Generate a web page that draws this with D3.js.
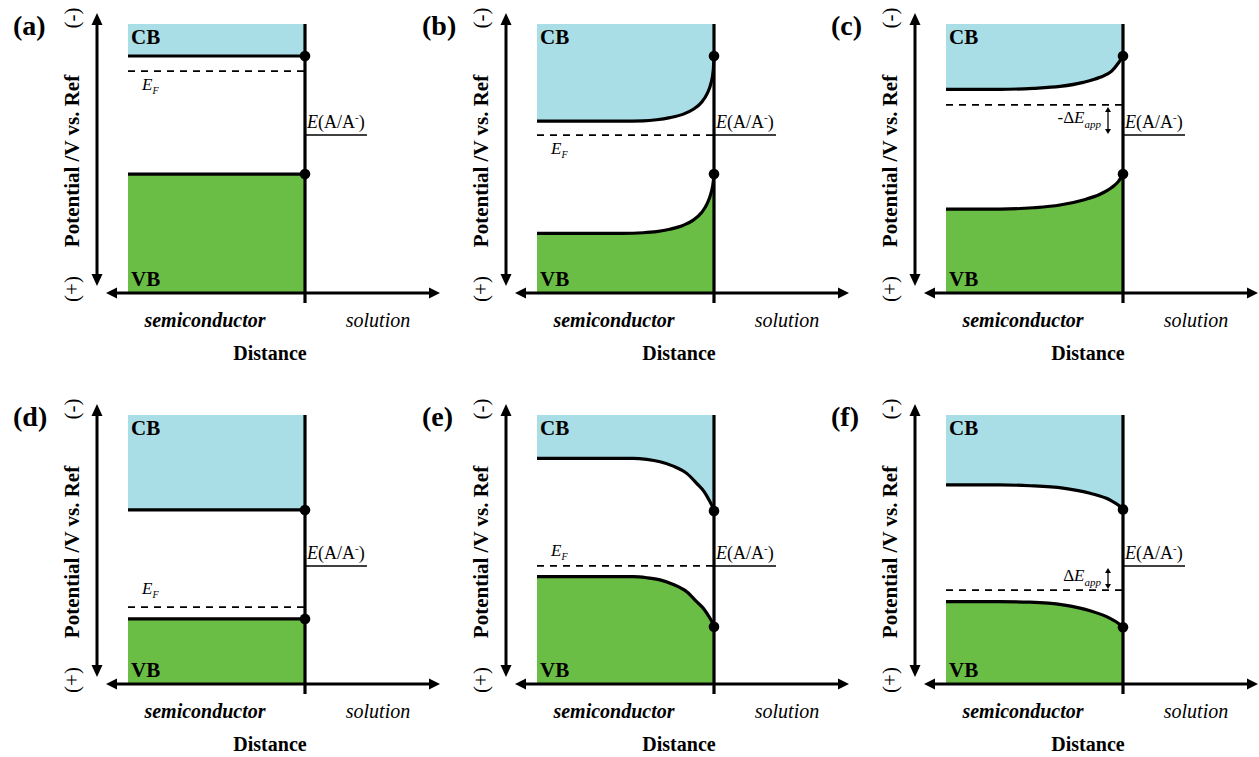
<!DOCTYPE html>
<html>
<head>
<meta charset="utf-8">
<script src="https://cdn.jsdelivr.net/npm/d3@7"></script>
<style>
  html, body { margin: 0; padding: 0; background: #fff; }
  svg { display: block; font-family: "Liberation Serif", "Times New Roman", serif; }
</style>
</head>
<body>
<svg id="chart" width="1259" height="757"></svg>
<script>
// Six band diagrams, read left-to-right, top-to-bottom
const panelIds = ["a", "b", "c", "d", "e", "f"];

// Band-edge profiles as [distance from interface, potential] (arbitrary units,
// distance -10 = bulk edge of the semiconductor, potential grows downwards = more positive)
const cbProfiles = [
  [[-10, 1.19], [0, 1.19]],
  [[-10, 3.61], [-5.2, 3.61], [-4.0, 3.60], [-3.24, 3.56], [-2.49, 3.48], [-1.73, 3.35], [-1.17, 3.17],
   [-0.70, 2.91], [-0.38, 2.58], [-0.17, 2.20], [-0.04, 1.71], [0, 1.19]],
  [[-10, 2.43], [-6.95, 2.43], [-5.07, 2.39], [-3.56, 2.32], [-2.24, 2.17], [-1.30, 1.98], [-0.64, 1.75],
   [-0.27, 1.46], [0, 1.19]],
  [[-10, 3.53], [0, 3.53]],
  [[-10, 1.61], [-4.56, 1.61], [-3.80, 1.65], [-3.05, 1.74], [-2.30, 1.90], [-1.54, 2.17], [-0.98, 2.54],
   [-0.56, 2.85], [-0.28, 3.16], [-0.09, 3.41], [0, 3.57]],
  [[-10, 2.60], [-7, 2.60], [-5.25, 2.63], [-3.39, 2.72], [-1.86, 2.91], [-0.73, 3.16], [-0.27, 3.35], [0, 3.51]]
];
const vbProfiles = [
  [[-10, 5.58], [0, 5.58]],
  [[-10, 7.78], [-5.2, 7.78], [-4.0, 7.76], [-3.24, 7.72], [-2.49, 7.63], [-1.73, 7.48], [-1.17, 7.29],
   [-0.70, 7.01], [-0.38, 6.67], [-0.17, 6.29], [-0.04, 5.86], [0, 5.58]],
  [[-10, 6.88], [-6.95, 6.88], [-5.07, 6.83], [-3.56, 6.73], [-2.24, 6.54], [-1.30, 6.33], [-0.64, 6.08],
   [-0.27, 5.86], [0, 5.58]],
  [[-10, 7.58], [0, 7.58]],
  [[-10, 6.01], [-4.56, 6.01], [-3.80, 6.05], [-3.05, 6.13], [-2.30, 6.30], [-1.54, 6.57], [-0.98, 6.94],
   [-0.56, 7.22], [-0.28, 7.50], [-0.09, 7.72], [0, 7.87]],
  [[-10, 6.94], [-7, 6.94], [-5.25, 6.96], [-3.39, 7.06], [-1.86, 7.28], [-0.73, 7.56], [-0.27, 7.74], [0, 7.89]]
];

// Fermi level of the semiconductor and redox potential of the solution
const fermiLevels = [1.75, 4.13, 3.01, 7.14, 5.61, 6.51];
const redoxLevels = [4.13, 4.13, 4.13, 5.61, 5.61, 5.61];

// Labels
const fermiLabel = ["E", "F"];
const redoxLabel = ["E", "(A/A", "-", ")"];
const shiftLabels = [null, null, "-Δ", null, null, "Δ"];
const yAxisTitle = "Potential /V vs. Ref";
const xAxisTitle = "Distance";
const regionLabels = ["semiconductor", "solution"];
const bandLabels = ["CB", "VB"];
const polarityLabels = ["(-)", "(+)"];

// ---- layout ----
const colX = [305, 714, 1123];   // interface position of each column
const rowTop = [24, 415];        // top of each row's band area
const plotH = 269;
const semiW = 177;
const fermiLabelDy = [19, 19, null, -13, -10, null];
const CB_COLOR = "#AADEE7";
const VB_COLOR = "#6BBE45";

const svg = d3.select("#chart");

function arrowHead(g, tipX, tipY, dx, dy, len, hw) {
  const n = Math.hypot(dx, dy), ux = dx / n, uy = dy / n;
  const bx = tipX - ux * len, by = tipY - uy * len;
  const pts = [[tipX, tipY], [bx - uy * hw, by + ux * hw], [bx + uy * hw, by - ux * hw]];
  g.append("path").attr("d", "M" + pts.map(p => p.join(",")).join("L") + "Z").attr("fill", "#000");
}

panelIds.forEach((id, i) => {
  const col = i % 3, row = Math.floor(i / 3);
  const ix = colX[col], top = rowTop[row], base = top + plotH;
  const x = d3.scaleLinear().domain([-10, 0]).range([ix - semiW, ix]);
  const y = d3.scaleLinear().domain([0, 10]).range([top, base]);
  const g = svg.append("g").attr("class", "panel-" + id);

  const cb = cbProfiles[i], vb = vbProfiles[i];
  const curve = d3.curveMonotoneX;

  // band fills
  g.append("path")
    .attr("d", d3.area().x(d => x(d[0])).y0(y(0)).y1(d => y(d[1])).curve(curve)(cb))
    .attr("fill", CB_COLOR);
  g.append("path")
    .attr("d", d3.area().x(d => x(d[0])).y0(d => y(d[1])).y1(y(10)).curve(curve)(vb))
    .attr("fill", VB_COLOR);

  // Fermi level
  g.append("line")
    .attr("x1", x(-10)).attr("x2", x(0))
    .attr("y1", y(fermiLevels[i])).attr("y2", y(fermiLevels[i]))
    .attr("stroke", "#000").attr("stroke-width", 1.8).attr("stroke-dasharray", "7,6");

  // band edges
  const line = d3.line().x(d => x(d[0])).y(d => y(d[1])).curve(curve);
  [cb, vb].forEach(p => {
    g.append("path").attr("d", line(p)).attr("fill", "none")
      .attr("stroke", "#000").attr("stroke-width", 3.2);
  });

  // redox level in solution
  g.append("line")
    .attr("x1", ix).attr("x2", ix + 62)
    .attr("y1", y(redoxLevels[i])).attr("y2", y(redoxLevels[i]))
    .attr("stroke", "#000").attr("stroke-width", 1.5);

  // potential axis (double arrow)
  const ax = ix - 208;
  g.append("line").attr("x1", ax).attr("x2", ax).attr("y1", top - 3).attr("y2", base - 14)
    .attr("stroke", "#000").attr("stroke-width", 3);
  arrowHead(g, ax, top - 11, 0, -1, 12, 5.5);
  arrowHead(g, ax, base - 7, 0, 1, 12, 5.5);

  // distance axis (double arrow)
  g.append("line").attr("x1", ix - 192).attr("x2", ix + 128).attr("y1", base).attr("y2", base)
    .attr("stroke", "#000").attr("stroke-width", 3);
  arrowHead(g, ix - 199, base, -1, 0, 11, 5.5);
  arrowHead(g, ix + 135, base, 1, 0, 11, 5.5);

  // interface
  g.append("line").attr("x1", ix).attr("x2", ix).attr("y1", top).attr("y2", base + 10)
    .attr("stroke", "#000").attr("stroke-width", 3.2);

  // surface band-edge dots
  [cb[cb.length - 1], vb[vb.length - 1]].forEach(d => {
    g.append("circle").attr("cx", x(d[0])).attr("cy", y(d[1])).attr("r", 5.3).attr("fill", "#000");
  });

  // applied-potential shift arrow
  if (shiftLabels[i]) {
    const ef = y(fermiLevels[i]), rd = y(redoxLevels[i]);
    const y1 = Math.min(ef, rd) + 2, y2 = Math.max(ef, rd) - 1;
    const sx = ix - 15;
    g.append("line").attr("x1", sx).attr("x2", sx).attr("y1", y1 + 3).attr("y2", y2 - 3)
      .attr("stroke", "#000").attr("stroke-width", 1.3);
    arrowHead(g, sx, y1, 0, -1, 5, 3);
    arrowHead(g, sx, y2, 0, 1, 5, 3);
    const t = g.append("text").attr("x", ix - 22).attr("y", (y1 + y2) / 2 + 2)
      .attr("text-anchor", "end").attr("font-size", 17);
    t.append("tspan").text(shiftLabels[i]);
    t.append("tspan").attr("font-style", "italic").text("E");
    t.append("tspan").attr("font-style", "italic").attr("font-size", 11).attr("dy", 5).text("app");
  }

  // Fermi label
  if (fermiLabelDy[i] !== null) {
    const t = g.append("text").attr("x", ix - 163).attr("y", y(fermiLevels[i]) + fermiLabelDy[i])
      .attr("font-size", 17).attr("font-style", "italic");
    t.append("tspan").text(fermiLabel[0]);
    t.append("tspan").attr("font-size", 10).attr("dy", 4).text(fermiLabel[1]);
  }

  // redox label
  {
    const t = g.append("text").attr("x", ix + 2).attr("y", y(redoxLevels[i]) - 7).attr("font-size", 18);
    t.append("tspan").attr("font-style", "italic").text(redoxLabel[0]);
    t.append("tspan").text(redoxLabel[1]);
    t.append("tspan").attr("font-size", 11).attr("dy", -7).text(redoxLabel[2]);
    t.append("tspan").attr("dy", 7).text(redoxLabel[3]);
  }

  // band names
  g.append("text").attr("x", ix - 174).attr("y", top + 20).attr("font-size", 21)
    .attr("font-weight", "bold").text(bandLabels[0]);
  g.append("text").attr("x", ix - 174).attr("y", base - 7).attr("font-size", 21)
    .attr("font-weight", "bold").text(bandLabels[1]);

  // region names and axis titles
  g.append("text").attr("x", ix - 100).attr("y", base + 34).attr("text-anchor", "middle")
    .attr("font-size", 20).attr("font-style", "italic").attr("font-weight", "bold").text(regionLabels[0]);
  g.append("text").attr("x", ix + 73).attr("y", base + 34).attr("text-anchor", "middle")
    .attr("font-size", 20).attr("font-style", "italic").text(regionLabels[1]);
  g.append("text").attr("x", ix - 35).attr("y", base + 67).attr("text-anchor", "middle")
    .attr("font-size", 20).attr("font-weight", "bold").text(xAxisTitle);

  g.append("text").attr("transform", `translate(${ix - 226},${top + 137}) rotate(-90)`)
    .attr("text-anchor", "middle").attr("font-size", 21).attr("font-weight", "bold").text(yAxisTitle);
  g.append("text").attr("transform", `translate(${ix - 226},${top - 6}) rotate(-90)`)
    .attr("text-anchor", "middle").attr("font-size", 21).text(polarityLabels[0]);
  g.append("text").attr("transform", `translate(${ix - 226},${base - 4}) rotate(-90)`)
    .attr("text-anchor", "middle").attr("font-size", 21).text(polarityLabels[1]);

  // panel letter
  g.append("text").attr("x", ix - 292).attr("y", top + 11).attr("font-size", 28)
    .attr("font-weight", "bold").text("(" + id + ")");
});
</script>
</body>
</html>
